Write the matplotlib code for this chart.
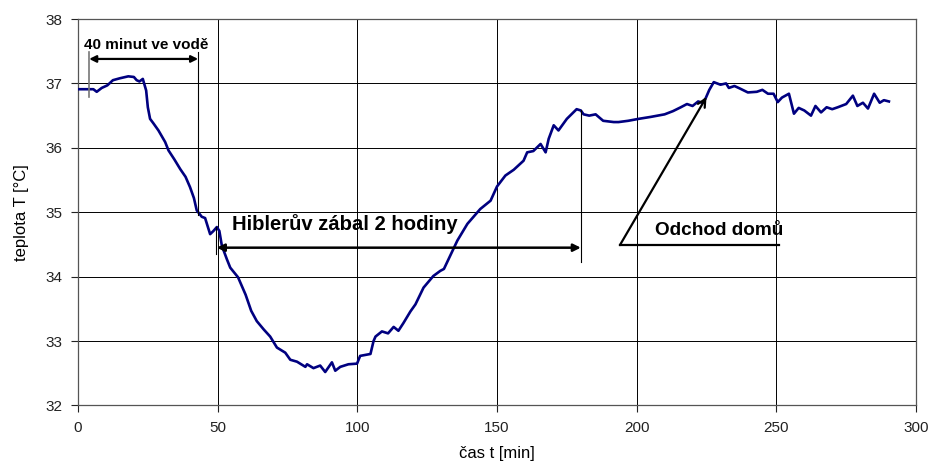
import matplotlib.pyplot as plt

plt.rcParams['font.family'] = ['Liberation Sans', 'DejaVu Sans']

# temperature record (time [min], T [degC])
t = [0, 3, 5.5, 6.7, 8.5, 10.5, 12.5, 15, 18, 20, 21, 22, 23.2, 24.4, 25,
     25.8, 27, 28.8, 31.2, 32.4, 34.5, 36.6, 38.5, 40.1, 41.5, 42.5, 44.3,
     45.5, 47.3, 48.5, 49.7, 50.6, 51.5, 53.3, 54.5, 57.3, 60, 62, 64, 66.5,
     68.8, 71.2, 74.2, 76, 78.4, 81.4, 82, 84.3, 86.7, 88.5, 90.9, 92.1,
     93.9, 96.8, 99.9, 101, 104.7, 105.8, 106.5, 108.8, 111, 113, 114.7,
     116.5, 119, 120.8, 123.7, 127.2, 129.7, 131, 133.5, 135.8, 139.4, 144,
     147.7, 150, 153, 156, 159.5, 160.8, 163, 165.6, 167.4, 168.5, 170.3,
     172, 175, 178.5, 180, 181, 183, 185.3, 188, 191.8, 193.5, 197, 200.7,
     205, 210, 213, 215.8, 218, 220, 222, 223.5, 224.7, 226, 227.6, 230,
     232, 233, 235, 237, 239.8, 243, 245, 247, 249, 250.5, 252, 254.5,
     256.3, 258, 260, 262.4, 264, 266, 268, 270, 272, 275, 277.4, 279, 281,
     282.8, 285, 287, 288.5, 290.3]
temp = [36.91, 36.91, 36.91, 36.87, 36.93, 36.97, 37.05, 37.08, 37.11, 37.1,
        37.05, 37.03, 37.07, 36.89, 36.63, 36.45, 36.38, 36.27, 36.09, 35.96,
        35.82, 35.67, 35.55, 35.39, 35.22, 35.03, 34.93, 34.91, 34.66, 34.71,
        34.77, 34.71, 34.48, 34.27, 34.14, 33.99, 33.72, 33.47, 33.31, 33.18,
        33.07, 32.9, 32.82, 32.71, 32.68, 32.6, 32.64, 32.58, 32.62, 32.52,
        32.67, 32.54, 32.6, 32.64, 32.65, 32.77, 32.8, 33.0, 33.07, 33.15,
        33.12, 33.22, 33.16, 33.28, 33.46, 33.57, 33.83, 34.01, 34.09, 34.12,
        34.35, 34.56, 34.82, 35.05, 35.18, 35.4, 35.57, 35.66, 35.8, 35.93,
        35.95, 36.06, 35.93, 36.14, 36.35, 36.27, 36.45, 36.6, 36.58, 36.52,
        36.5, 36.52, 36.42, 36.4, 36.4, 36.42, 36.45, 36.48, 36.52, 36.57,
        36.63, 36.68, 36.65, 36.72, 36.7, 36.77, 36.9, 37.02, 36.98, 37.0,
        36.93, 36.96, 36.92, 36.86, 36.87, 36.9, 36.84, 36.84, 36.71, 36.78,
        36.84, 36.53, 36.62, 36.58, 36.5, 36.65, 36.55, 36.63, 36.6, 36.63,
        36.68, 36.81, 36.65, 36.7, 36.61, 36.84, 36.7, 36.74, 36.72]

xticks = [0, 50, 100, 150, 200, 250, 300]
yticks = [32, 33, 34, 35, 36, 37, 38]

fig = plt.figure(figsize=(9.33, 4.67), dpi=100)
ax = fig.add_axes([0.0836, 0.1317, 0.8982, 0.8276])
ax.plot(t, temp, color='#000080', lw=1.9, zorder=3)

ax.set_xlim(0, 300)
ax.set_ylim(32, 38)
ax.set_xticks(xticks)
ax.set_yticks(yticks)
ax.grid(True, color='black', lw=0.7)
ax.tick_params(direction='out', length=5, width=0.8, colors='#222222',
               labelsize=11, pad=6)
for s in ax.spines.values():
    s.set_color('#555555')
    s.set_linewidth(0.9)

ax.set_xlabel('čas t [min]', fontsize=12, labelpad=8)
ax.set_ylabel('teplota T [°C]', fontsize=12, labelpad=12)

# 40 minut ve vode
ax.plot([4, 4], [36.79, 37.49], color='#777777', lw=1.2, zorder=4)
ax.plot([43, 43], [34.95, 37.49], color='black', lw=0.8, zorder=4)
ax.annotate('', xy=(4, 37.38), xytext=(43, 37.38),
            arrowprops=dict(arrowstyle='<|-|>', color='black', lw=1.6,
                            mutation_scale=10, shrinkA=0, shrinkB=0))
ax.text(2.3, 37.6, '40 minut ve vodě', fontsize=11, fontweight='bold',
        va='center', ha='left')

# Hiblerův zábal
ax.plot([49.5, 49.5], [34.35, 34.77], color='black', lw=0.8, zorder=4)
ax.plot([180, 180], [34.22, 36.58], color='black', lw=0.8, zorder=4)
ax.annotate('', xy=(49.7, 34.45), xytext=(180, 34.45),
            arrowprops=dict(arrowstyle='<|-|>', color='black', lw=1.8,
                            mutation_scale=11, shrinkA=0, shrinkB=0))
ax.text(55, 34.82, 'Hiblerův zábal 2 hodiny', fontsize=14.6,
        fontweight='bold', va='center', ha='left')

# Odchod domů
ax.plot([194, 251], [34.49, 34.49], color='black', lw=1.6, zorder=4)
ax.annotate('', xy=(225, 36.79), xytext=(194, 34.49),
            arrowprops=dict(arrowstyle='->', color='black', lw=1.6,
                            mutation_scale=14, shrinkA=0, shrinkB=0))
ax.text(206.5, 34.72, 'Odchod domů', fontsize=13.7, fontweight='bold',
        va='center', ha='left')

fig.savefig('out.png', dpi=100)
